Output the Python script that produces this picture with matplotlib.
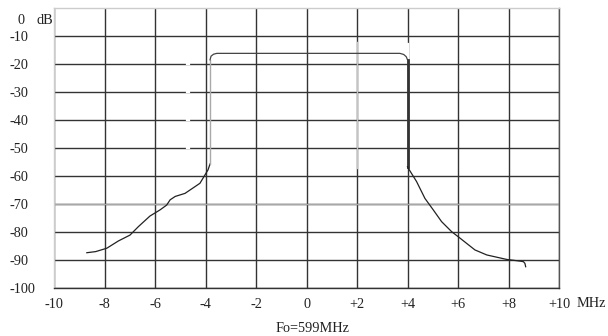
import numpy as np
import matplotlib.pyplot as plt

# --- data (MHz offset vs dB) ---
freq_skirt_left = [-8.70, -8.35, -7.91, -7.45, -6.99, -6.66, -6.20, -5.80,
                   -5.54, -5.40, -5.20, -4.81, -4.22, -4.02, -3.90, -3.82]
db_skirt_left = [-87.4, -87.0, -85.8, -83.2, -81.1, -78.1, -74.3, -72.1,
                 -70.4, -68.5, -67.3, -66.2, -62.6, -59.6, -57.8, -55.7]

freq_edge_left = [-3.82, -3.82]
db_edge_left = [-55.7, -18.5]

freq_top = [-3.82, -3.78, -3.68, -3.55, 3.70, 3.85, 3.95, 4.00]
db_top = [-18.5, -17.2, -16.5, -16.2, -16.2, -16.6, -17.4, -18.5]

freq_edge_right = [4.00, 4.00]
db_edge_right = [-18.5, -56.7]

freq_skirt_right = [4.00, 4.03, 4.36, 4.69, 5.02, 5.35, 5.75, 6.01, 6.67,
                    7.14, 7.93, 8.46, 8.59, 8.65, 8.68]
db_skirt_right = [-56.7, -57.2, -62.0, -68.0, -72.1, -76.3, -79.9, -81.7,
                  -86.4, -88.2, -89.8, -90.4, -90.6, -91.2, -92.4]

x_ticks = [-10, -8, -6, -4, -2, 0, 2, 4, 6, 8, 10]
x_labels = ["-10", "-8", "-6", "-4", "-2", "0", "+2", "+4", "+6", "+8", "+10"]
y_ticks = [-100, -90, -80, -70, -60, -50, -40, -30, -20, -10]
y_labels = ["-100", "-90", "-80", "-70", "-60", "-50", "-40", "-30", "-20", "-10"]

# short breaks in the printed grid
gap_rows = [-20, -30, -40, -50]

plt.rcParams['font.family'] = ['Liberation Serif', 'DejaVu Serif']
fs = 10.3

fig = plt.figure(figsize=(6.08, 3.36), dpi=100)
ax = fig.add_axes([54 / 608, 48 / 336, 505 / 608, 280 / 336])

ax.set_xlim(-10, 10)
ax.set_ylim(-100, 0)
ax.set_xticks(x_ticks)
ax.set_xticklabels(x_labels, fontsize=fs, color="#222222")
ax.set_yticks(y_ticks)
ax.set_yticklabels(y_labels, fontsize=fs, color="#222222")
for lbl in ax.get_yticklabels():
    lbl.set_horizontalalignment("left")
ax.tick_params(axis="y", length=0, pad=31.7)
ax.tick_params(axis="x", length=0, pad=7.5)

# grid
ax.grid(True, color="#333333", lw=1.0)
ax.axhline(-70, color="#a8a8a8", lw=1.0, zorder=1.5)
ax.plot([2, 2], [-12, -57], color="#c4c4c4", lw=1.0, zorder=1.6)
ax.plot([4, 4], [-12.8, -18.5], color="white", lw=1.6, zorder=1.7)
for r in gap_rows:
    ax.plot([-4.74, -4.64], [r, r], color="white", lw=1.6, zorder=1.7)
ax.set_axisbelow(True)

for side, col in [("top", "#cccccc"), ("left", "#cccccc"),
                  ("right", "#555555"), ("bottom", "#333333")]:
    ax.spines[side].set_color(col)
    ax.spines[side].set_linewidth(1.0)

# response curve
ax.plot(freq_skirt_left, db_skirt_left, color="#222222", lw=0.9, zorder=3)
ax.plot(freq_edge_left, db_edge_left, color="#aaaaaa", lw=1.0, zorder=3)
ax.plot(freq_top, db_top, color="#444444", lw=0.9, zorder=3)
ax.plot(freq_edge_right, db_edge_right, color="#333333", lw=2.0, zorder=3)
ax.plot(freq_skirt_right, db_skirt_right, color="#222222", lw=0.9, zorder=3)

# extra labels
ytr = ax.get_yaxis_transform()
ax.text(-0.0713, -4.6, "0", transform=ytr, fontsize=fs, ha="left",
        va="center", clip_on=False, color="#222222")
ax.text(-0.0356, -4.6, "dB", transform=ytr, fontsize=fs, ha="left",
        va="center", clip_on=False, color="#222222")
xtr = ax.get_xaxis_transform()
ax.text(11.3, -0.054, "MHz", transform=xtr, fontsize=fs, ha="center",
        va="center", clip_on=False, color="#222222")
ax.text(0.513, -0.143, "Fo=599MHz", transform=ax.transAxes, fontsize=fs,
        ha="center", va="center", clip_on=False, color="#222222")

fig.savefig("out.png", dpi=100)
